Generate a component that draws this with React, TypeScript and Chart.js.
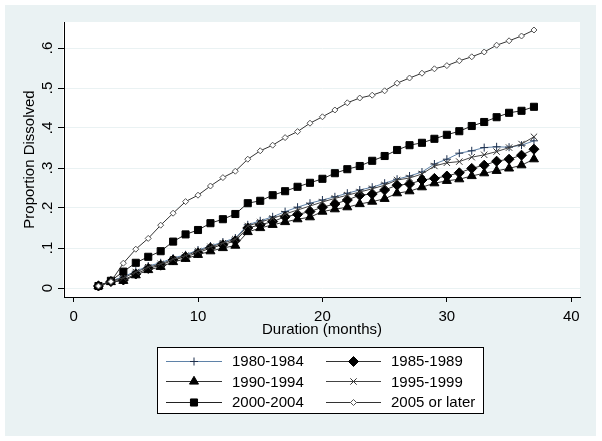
import React, { useEffect, useRef } from 'react';
import { Chart, registerables } from 'chart.js';

Chart.register(...registerables);

const months = [2, 3, 4, 5, 6, 7, 8, 9, 10, 11, 12, 13, 14, 15, 16, 17, 18, 19, 20, 21, 22, 23, 24, 25, 26, 27, 28, 29, 30, 31, 32, 33, 34, 35, 36, 37];

const s1980 = [0.005, 0.018, 0.028, 0.042, 0.055, 0.063, 0.075, 0.083, 0.095, 0.105, 0.115, 0.125, 0.158, 0.168, 0.178, 0.191, 0.202, 0.212, 0.22, 0.228, 0.237, 0.245, 0.252, 0.262, 0.272, 0.28, 0.29, 0.31, 0.322, 0.337, 0.343, 0.351, 0.353, 0.352, 0.357, 0.368];
const s1985 = [0.005, 0.016, 0.02, 0.035, 0.049, 0.057, 0.07, 0.078, 0.088, 0.1, 0.108, 0.118, 0.15, 0.158, 0.166, 0.178, 0.184, 0.191, 0.202, 0.21, 0.22, 0.232, 0.235, 0.245, 0.257, 0.26, 0.27, 0.274, 0.28, 0.288, 0.299, 0.307, 0.317, 0.322, 0.332, 0.347];
const s1990 = [0.005, 0.015, 0.018, 0.032, 0.045, 0.053, 0.065, 0.073, 0.083, 0.092, 0.1, 0.106, 0.14, 0.15, 0.158, 0.165, 0.172, 0.177, 0.191, 0.197, 0.202, 0.21, 0.216, 0.223, 0.237, 0.242, 0.252, 0.262, 0.268, 0.272, 0.28, 0.287, 0.293, 0.299, 0.307, 0.322];
const s1995 = [0.005, 0.018, 0.025, 0.04, 0.052, 0.06, 0.072, 0.081, 0.092, 0.103, 0.112, 0.122, 0.155, 0.165, 0.174, 0.185, 0.195, 0.205, 0.215, 0.224, 0.232, 0.24, 0.248, 0.257, 0.27, 0.275, 0.285, 0.305, 0.313, 0.316, 0.327, 0.333, 0.341, 0.351, 0.36, 0.378];
const s2000 = [0.005, 0.018, 0.041, 0.063, 0.078, 0.092, 0.116, 0.134, 0.145, 0.162, 0.172, 0.185, 0.212, 0.218, 0.232, 0.242, 0.253, 0.263, 0.273, 0.287, 0.297, 0.305, 0.318, 0.33, 0.345, 0.357, 0.363, 0.373, 0.383, 0.392, 0.405, 0.415, 0.427, 0.438, 0.443, 0.453];
const s2005 = [0.005, 0.016, 0.062, 0.097, 0.124, 0.157, 0.187, 0.216, 0.232, 0.255, 0.276, 0.292, 0.322, 0.343, 0.357, 0.376, 0.391, 0.412, 0.428, 0.445, 0.463, 0.475, 0.482, 0.493, 0.512, 0.525, 0.537, 0.548, 0.556, 0.568, 0.578, 0.59, 0.607, 0.618, 0.63, 0.645];

const seriesNames = ['1980-1984', '1985-1989', '1990-1994', '1995-1999', '2000-2004', '2005 or later'];
const seriesValues = [s1980, s1985, s1990, s1995, s2000, s2005];

const xTickValues = [0, 10, 20, 30, 40];
const yTickValues = [0, 0.1, 0.2, 0.3, 0.4, 0.5, 0.6];
const yTickLabels = ['0', '.1', '.2', '.3', '.4', '.5', '.6'];
const xTitle = 'Duration (months)';
const yTitle = 'Proportion Dissolved';

type Sty = { shape: string; r: number; fill: string; stroke: string; line: string };
const styles: Sty[] = [
  { shape: 'cross', r: 4, fill: '#1c2f4d', stroke: '#1c2f4d', line: '#5f82a8' },
  { shape: 'rectRot', r: 5, fill: '#000', stroke: '#000', line: '#333' },
  { shape: 'triangle', r: 5.2, fill: '#000', stroke: '#000', line: '#333' },
  { shape: 'crossRot', r: 4.5, fill: '#333', stroke: '#333', line: '#444' },
  { shape: 'rect', r: 5, fill: '#000', stroke: '#000', line: '#222' },
  { shape: 'rectRot', r: 3, fill: '#fff', stroke: '#555', line: '#333' },
];

const FONT = '15px "Liberation Sans", Arial, sans-serif';
const BG = '#eaf2f3';

function drawMarker(ctx: CanvasRenderingContext2D, s: Sty, x: number, y: number) {
  const r = s.r;
  ctx.save();
  ctx.lineWidth = 1;
  ctx.strokeStyle = s.stroke;
  ctx.fillStyle = s.fill;
  ctx.beginPath();
  if (s.shape === 'cross') {
    ctx.moveTo(x, y - r); ctx.lineTo(x, y + r);
    ctx.moveTo(x - r, y); ctx.lineTo(x + r, y);
    ctx.stroke();
  } else if (s.shape === 'crossRot') {
    const o = r * Math.SQRT1_2;
    ctx.moveTo(x - o, y - o); ctx.lineTo(x + o, y + o);
    ctx.moveTo(x - o, y + o); ctx.lineTo(x + o, y - o);
    ctx.stroke();
  } else if (s.shape === 'rectRot') {
    ctx.moveTo(x, y - r); ctx.lineTo(x + r, y); ctx.lineTo(x, y + r); ctx.lineTo(x - r, y);
    ctx.closePath(); ctx.fill(); ctx.stroke();
  } else if (s.shape === 'triangle') {
    ctx.moveTo(x, y - r);
    ctx.lineTo(x + r * 0.866, y + r * 0.5);
    ctx.lineTo(x - r * 0.866, y + r * 0.5);
    ctx.closePath(); ctx.fill(); ctx.stroke();
  } else if (s.shape === 'rect') {
    const h = r * Math.SQRT1_2;
    ctx.rect(x - h, y - h, 2 * h, 2 * h);
    ctx.fill(); ctx.stroke();
  }
  ctx.restore();
}

const decorPlugin = {
  id: 'stataDecor',
  beforeDraw(chart: any) {
    const ctx = chart.ctx as CanvasRenderingContext2D;
    const a = chart.chartArea;
    ctx.save();
    ctx.fillStyle = '#fff';
    ctx.fillRect(0, 0, chart.width, chart.height);
    ctx.fillStyle = BG;
    ctx.fillRect(5, 5, 591, 431);
    ctx.fillStyle = '#fff';
    ctx.fillRect(a.left - 1, a.top, a.right - a.left + 1, a.bottom - a.top);
    ctx.restore();
  },
  afterDraw(chart: any) {
    const ctx = chart.ctx as CanvasRenderingContext2D;
    const xs = chart.scales.x;
    const ys = chart.scales.y;
    const a = chart.chartArea;
    ctx.save();
    ctx.font = FONT;
    ctx.fillStyle = '#000';
    // y tick labels (rotated)
    ctx.textAlign = 'center';
    ctx.textBaseline = 'alphabetic';
    yTickValues.forEach((v, i) => {
      const py = ys.getPixelForValue(v);
      ctx.save();
      ctx.translate(52, py);
      ctx.rotate(-Math.PI / 2);
      ctx.fillText(yTickLabels[i], 0, 0);
      ctx.restore();
    });
    // y title
    ctx.save();
    ctx.translate(33.5, (a.top + a.bottom) / 2);
    ctx.rotate(-Math.PI / 2);
    ctx.fillText(yTitle, 0, 0);
    ctx.restore();
    // x tick labels
    xTickValues.forEach((v) => {
      const px = xs.getPixelForValue(v);
      ctx.fillText(String(v), px, 321);
    });
    // x title
    ctx.fillText(xTitle, (a.left + a.right) / 2, 334);
    // legend
    const lx = 157, ly = 347, lw = 327, lh = 67;
    ctx.fillStyle = '#fff';
    ctx.fillRect(lx, ly, lw, lh);
    ctx.strokeStyle = '#000';
    ctx.lineWidth = 1;
    ctx.strokeRect(lx + 0.5, ly + 0.5, lw - 1, lh - 1);
    const rowsY = [360.5, 381.3, 402];
    const colLine = [[166, 222], [326, 381]];
    const colText = [232, 391];
    ctx.textAlign = 'left';
    seriesNames.forEach((name, i) => {
      const row = Math.floor(i / 2);
      const col = i % 2;
      const y = rowsY[row];
      const s = styles[i];
      ctx.strokeStyle = s.line;
      ctx.lineWidth = 1;
      ctx.beginPath();
      ctx.moveTo(colLine[col][0], Math.round(y) + 0.5);
      ctx.lineTo(colLine[col][1], Math.round(y) + 0.5);
      ctx.stroke();
      drawMarker(ctx, s, (colLine[col][0] + colLine[col][1]) / 2, Math.round(y) + 0.5);
      ctx.fillStyle = '#000';
      ctx.fillText(name, colText[col], y + 5.4);
    });
    ctx.restore();
  },
};

export default function App() {
  const ref = useRef<HTMLCanvasElement>(null);
  useEffect(() => {
    const datasets = seriesValues.map((vals, i) => ({
      label: seriesNames[i],
      data: months.map((m, j) => ({ x: m, y: vals[j] })),
      borderColor: styles[i].line,
      borderWidth: 1,
      pointStyle: styles[i].shape as any,
      pointRadius: styles[i].r,
      pointBackgroundColor: styles[i].fill,
      pointBorderColor: styles[i].stroke,
      pointBorderWidth: 1,
      tension: 0,
      fill: false,
      order: 5 - i,
    }));
    const chart = new Chart(ref.current!, {
      type: 'line',
      data: { datasets },
      options: {
        animation: false,
        responsive: false,
        layout: { padding: { left: 0, top: 22, right: 22, bottom: 0 } },
        plugins: { legend: { display: false }, tooltip: { enabled: false }, title: { display: false } },
        scales: {
          x: {
            type: 'linear',
            min: -0.77,
            max: 40.7,
            afterBuildTicks: (s: any) => { s.ticks = xTickValues.map((v) => ({ value: v })); },
            afterFit: (s: any) => { s.height = 144; },
            ticks: { display: false },
            grid: { display: true, drawOnChartArea: false, drawTicks: true, tickLength: 5, tickColor: '#000', color: '#000' },
            border: { display: true, color: '#000', width: 1 },
          },
          y: {
            type: 'linear',
            min: -0.0225,
            max: 0.665,
            afterBuildTicks: (s: any) => { s.ticks = yTickValues.map((v) => ({ value: v })); },
            afterFit: (s: any) => { s.width = 64; },
            ticks: { display: false },
            grid: { display: true, drawOnChartArea: true, drawTicks: true, tickLength: 6, tickColor: '#000', color: BG, lineWidth: 1 },
            border: { display: true, color: '#000', width: 1 },
          },
        },
      },
      plugins: [decorPlugin],
    });
    return () => chart.destroy();
  }, []);
  return (
    <div style={{ position: 'absolute', left: 0, top: 0, width: 602, height: 441 }}>
      <canvas ref={ref} width={602} height={441} style={{ display: 'block', width: 602, height: 441 }} />
    </div>
  );
}
